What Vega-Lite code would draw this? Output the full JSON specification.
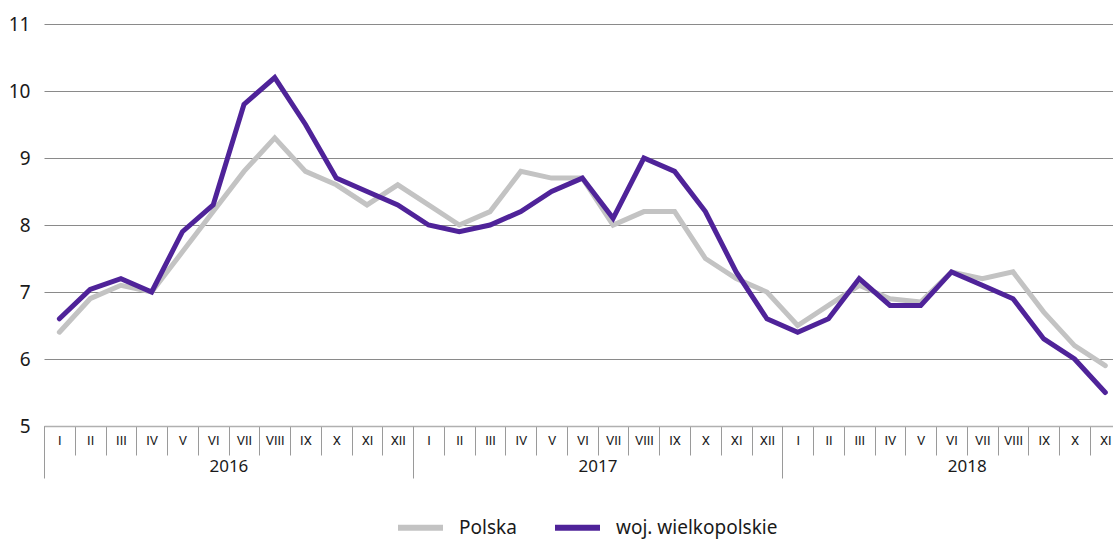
{
  "$schema": "https://vega.github.io/schema/vega-lite/v6.json",
  "width": 1069,
  "height": 402,
  "autosize": "none",
  "padding": {"left": 44, "top": 24, "right": 0, "bottom": 113},
  "background": "white",
  "config": {"view": {"stroke": null}, "font": "Noto Sans"},
  "data": {"values": [
    {"t": 1, "series": "Polska", "value": 6.4},
    {"t": 2, "series": "Polska", "value": 6.9},
    {"t": 3, "series": "Polska", "value": 7.1},
    {"t": 4, "series": "Polska", "value": 7.0},
    {"t": 5, "series": "Polska", "value": 7.6},
    {"t": 6, "series": "Polska", "value": 8.2},
    {"t": 7, "series": "Polska", "value": 8.8},
    {"t": 8, "series": "Polska", "value": 9.3},
    {"t": 9, "series": "Polska", "value": 8.8},
    {"t": 10, "series": "Polska", "value": 8.6},
    {"t": 11, "series": "Polska", "value": 8.3},
    {"t": 12, "series": "Polska", "value": 8.6},
    {"t": 13, "series": "Polska", "value": 8.3},
    {"t": 14, "series": "Polska", "value": 8.0},
    {"t": 15, "series": "Polska", "value": 8.2},
    {"t": 16, "series": "Polska", "value": 8.8},
    {"t": 17, "series": "Polska", "value": 8.7},
    {"t": 18, "series": "Polska", "value": 8.7},
    {"t": 19, "series": "Polska", "value": 8.0},
    {"t": 20, "series": "Polska", "value": 8.2},
    {"t": 21, "series": "Polska", "value": 8.2},
    {"t": 22, "series": "Polska", "value": 7.5},
    {"t": 23, "series": "Polska", "value": 7.2},
    {"t": 24, "series": "Polska", "value": 7.0},
    {"t": 25, "series": "Polska", "value": 6.5},
    {"t": 26, "series": "Polska", "value": 6.8},
    {"t": 27, "series": "Polska", "value": 7.1},
    {"t": 28, "series": "Polska", "value": 6.9},
    {"t": 29, "series": "Polska", "value": 6.85},
    {"t": 30, "series": "Polska", "value": 7.3},
    {"t": 31, "series": "Polska", "value": 7.2},
    {"t": 32, "series": "Polska", "value": 7.3},
    {"t": 33, "series": "Polska", "value": 6.7},
    {"t": 34, "series": "Polska", "value": 6.2},
    {"t": 35, "series": "Polska", "value": 5.9},
    {"t": 1, "series": "woj. wielkopolskie", "value": 6.6},
    {"t": 2, "series": "woj. wielkopolskie", "value": 7.04},
    {"t": 3, "series": "woj. wielkopolskie", "value": 7.2},
    {"t": 4, "series": "woj. wielkopolskie", "value": 7.0},
    {"t": 5, "series": "woj. wielkopolskie", "value": 7.9},
    {"t": 6, "series": "woj. wielkopolskie", "value": 8.3},
    {"t": 7, "series": "woj. wielkopolskie", "value": 9.8},
    {"t": 8, "series": "woj. wielkopolskie", "value": 10.2},
    {"t": 9, "series": "woj. wielkopolskie", "value": 9.5},
    {"t": 10, "series": "woj. wielkopolskie", "value": 8.7},
    {"t": 11, "series": "woj. wielkopolskie", "value": 8.5},
    {"t": 12, "series": "woj. wielkopolskie", "value": 8.3},
    {"t": 13, "series": "woj. wielkopolskie", "value": 8.0},
    {"t": 14, "series": "woj. wielkopolskie", "value": 7.9},
    {"t": 15, "series": "woj. wielkopolskie", "value": 8.0},
    {"t": 16, "series": "woj. wielkopolskie", "value": 8.2},
    {"t": 17, "series": "woj. wielkopolskie", "value": 8.5},
    {"t": 18, "series": "woj. wielkopolskie", "value": 8.7},
    {"t": 19, "series": "woj. wielkopolskie", "value": 8.1},
    {"t": 20, "series": "woj. wielkopolskie", "value": 9.0},
    {"t": 21, "series": "woj. wielkopolskie", "value": 8.8},
    {"t": 22, "series": "woj. wielkopolskie", "value": 8.2},
    {"t": 23, "series": "woj. wielkopolskie", "value": 7.3},
    {"t": 24, "series": "woj. wielkopolskie", "value": 6.6},
    {"t": 25, "series": "woj. wielkopolskie", "value": 6.4},
    {"t": 26, "series": "woj. wielkopolskie", "value": 6.6},
    {"t": 27, "series": "woj. wielkopolskie", "value": 7.2},
    {"t": 28, "series": "woj. wielkopolskie", "value": 6.8},
    {"t": 29, "series": "woj. wielkopolskie", "value": 6.8},
    {"t": 30, "series": "woj. wielkopolskie", "value": 7.3},
    {"t": 31, "series": "woj. wielkopolskie", "value": 7.1},
    {"t": 32, "series": "woj. wielkopolskie", "value": 6.9},
    {"t": 33, "series": "woj. wielkopolskie", "value": 6.3},
    {"t": 34, "series": "woj. wielkopolskie", "value": 6.0},
    {"t": 35, "series": "woj. wielkopolskie", "value": 5.5}
  ]},
  "layer": [
    {
      "mark": {"type": "line", "strokeWidth": 5, "strokeJoin": "miter", "strokeCap": "round", "clip": false},
      "encoding": {
        "x": {
          "field": "t", "type": "quantitative",
          "scale": {"domain": [0.5, 35.25], "nice": false, "zero": false},
          "axis": {
            "orient": "bottom",
            "title": null,
            "grid": false,
            "values": [0.5,1.5,2.5,3.5,4.5,5.5,6.5,7.5,8.5,9.5,10.5,11.5,12.5,13.5,14.5,15.5,16.5,17.5,18.5,19.5,20.5,21.5,22.5,23.5,24.5,25.5,26.5,27.5,28.5,29.5,30.5,31.5,32.5,33.5,34.5],
            "labelExpr": "['I','II','III','IV','V','VI','VII','VIII','IX','X','XI','XII'][round(datum.value - 0.5) % 12]",
            "labelOffset": 15.37,
            "labelPadding": -15,
            "labelBaseline": "middle",
            "labelAlign": "center",
            "labelFont": "Roboto",
            "labelFontSize": 13,
            "labelColor": "#1a1a1a",
            "labelOverlap": false,
            "labelBound": false,
            "labelFlush": false,
            "ticks": true,
            "tickSize": 29,
            "tickColor": "#9a9a9a",
            "tickWidth": 1,
            "domain": true,
            "domainColor": "#b0b0b0",
            "domainWidth": 1.5
          }
        },
        "y": {
          "field": "value", "type": "quantitative",
          "scale": {"domain": [5, 11], "nice": false, "zero": false},
          "axis": {
            "title": null,
            "values": [5, 6, 7, 8, 9, 10, 11],
            "format": "d",
            "grid": true,
            "gridColor": "#8a8a8a",
            "gridWidth": 1.2,
            "domain": false,
            "ticks": false,
            "labelFontSize": 19,
            "labelPadding": 14,
            "labelColor": "#1a1a1a"
          }
        },
        "color": {
          "field": "series", "type": "nominal",
          "scale": {"domain": ["Polska", "woj. wielkopolskie"], "range": ["#c3c3c3", "#4f2399"]},
          "legend": {
            "title": null,
            "orient": "none",
            "direction": "horizontal",
            "legendX": 351,
            "legendY": 478,
            "symbolType": "stroke",
            "symbolSize": 2025,
            "symbolStrokeWidth": 6,
            "labelFontSize": 19,
            "labelLimit": 400,
            "labelColor": "#1a1a1a",
            "labelOffset": 13,
            "columnPadding": 26
          }
        }
      }
    },
    {
      "mark": {"type": "point", "opacity": 0},
      "encoding": {
        "x": {
          "field": "t", "type": "quantitative",
          "axis": {
            "orient": "bottom",
            "title": null,
            "grid": false,
            "values": [0.5, 12.5, 24.5],
            "labelExpr": "datum.value < 1 ? '2016' : (datum.value < 13 ? '2017' : '2018')",
            "labelOffset": 184.4,
            "labelPadding": -12,
            "labelBaseline": "middle",
            "labelAlign": "center",
            "labelFontSize": 17,
            "labelColor": "#1a1a1a",
            "labelOverlap": false,
            "labelBound": false,
            "labelFlush": false,
            "ticks": true,
            "tickSize": 52,
            "tickColor": "#9a9a9a",
            "tickWidth": 1,
            "domain": false
          }
        },
        "y": {"field": "value", "type": "quantitative"}
      }
    }
  ],
  "resolve": {"axis": {"x": "independent"}}
}
